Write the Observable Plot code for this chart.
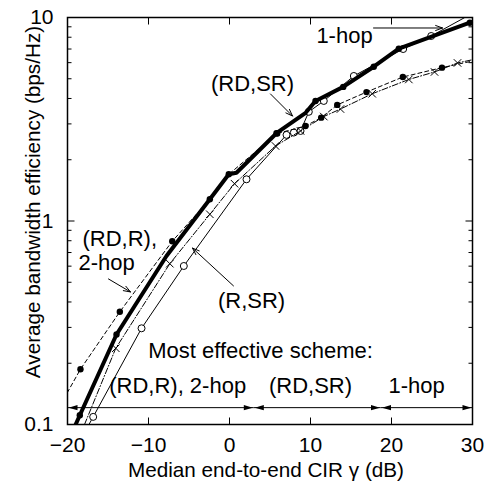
<!DOCTYPE html>
<html><head><meta charset="utf-8">
<script src="https://cdn.jsdelivr.net/npm/d3@7"></script>
<script src="https://cdn.jsdelivr.net/npm/@observablehq/plot@0.6"></script>
<style>body{margin:0;background:#fff}</style>
</head><body><div id="chart"></div>
<script>
// ---- data ----
const xTicks = [-20, -10, 0, 10, 20, 30];
const yTicks = [0.1, 1, 10];
const yMinor = [0.2, 0.3, 0.4, 0.5, 0.6, 0.7, 0.8, 0.9, 2, 3, 4, 5, 6, 7, 8, 9];

// (RD,SR): thick solid
const rdsrX = [-19.9, -18.48, -13.95, -7.78, -2.43, -0.09, 0.86, 5.80, 9.40, 10.62, 14.04, 17.81, 20.90, 29.67, 30];
const rdsrY = [0.083, 0.111, 0.277, 0.673, 1.278, 1.696, 1.727, 2.70, 3.40, 3.89, 4.56, 5.73, 7.03, 9.43, 9.5];
const rdsrDot = [-18.48, -13.95, 5.80, 10.62, 14.04, 17.81, 20.90, 29.67];

// (RD,R) / 2-hop: thin dashed, filled dots
const rdrX = [-20.04, -18.40, -13.54, -7.07, -2.43, -0.09, 5.89, 9.38, 11.32, 13.30, 16.91, 21.40, 26.23, 30];
const rdrY = [0.143, 0.187, 0.358, 0.795, 1.278, 1.696, 2.69, 2.93, 3.22, 3.72, 4.30, 5.10, 5.67, 6.11];

// (R,SR): dash-dot, x markers
const rsrX = [-17.9, -14.04, -7.37, -2.43, 0.62, 5.68, 8.77, 11.64, 13.70, 17.62, 22.14, 25.31, 28.15, 30];
const rsrY = [0.1, 0.237, 0.617, 1.079, 1.525, 2.337, 2.77, 3.26, 3.55, 4.22, 4.96, 5.40, 5.98, 6.2];

// 1-hop: thin solid, open circles
const hop1X = [-17.79, -16.83, -10.86, -5.64, 2.10, 7.04, 7.94, 8.77, 9.79, 11.64, 15.35, 21.44, 24.90, 29.01];
const hop1Y = [0.093, 0.109, 0.297, 0.601, 1.603, 2.65, 2.72, 2.77, 3.44, 3.89, 5.16, 7.00, 8.11, 9.98];

// "most effective scheme" regions
const regionBounds = [[-20, 3.0], [3.0, 18.7], [18.7, 30]];
const regionNames = ["(RD,R), 2-hop", "(RD,SR)", "1-hop"];
const regionLabelX = [-6.4, 10.0, 23.1];
const regionArrowY = 0.121;
const regionLabelY = 0.1546;

// centred annotations (text, x, y)
const noteText = ["(RD,SR)", "1-hop", "(R,SR)", "Most effective scheme:"];
const noteX = [2.84, 14.2, 2.72, 3.83];
const noteY = [4.71, 8.11, 0.404, 0.2297];
// left-aligned annotation
const leftNoteText = ["(RD,R),", "2-hop"];
const leftNoteX = [-18.15, -18.64];
const leftNoteY = [0.82, 0.625];
// annotation arrows [x1, y1, x2, y2]
const pointerArrows = [
  [5.06, 4.21, 7.78, 3.28],
  [17.78, 8.88, 26.3, 8.88],
  [-14.94, 0.519, -12.22, 0.448],
  [0.49, 0.480, -4.57, 0.736]
];

const zip = (xs, ys) => xs.map((x, i) => ({x, y: ys[i]}));
const rdsr = zip(rdsrX, rdsrY);
const rdsrDots = rdsr.filter(d => rdsrDot.includes(d.x));
const rdr = zip(rdrX, rdrY);
const rsr = zip(rsrX, rsrY);
const hop1 = zip(hop1X, hop1Y);
const inner = arr => arr.slice(1, -1);
const notes = noteText.map((t, i) => ({t, x: noteX[i], y: noteY[i]}));
const leftNotes = leftNoteText.map((t, i) => ({t, x: leftNoteX[i], y: leftNoteY[i]}));
const regions = regionBounds.map((b, i) => ({x1: b[0], x2: b[1], name: regionNames[i], lx: regionLabelX[i]}));

const seg = (dx, dy) => ({draw(ctx) { ctx.moveTo(0, 0); ctx.lineTo(dx, dy); }});
const headR = {draw(ctx) { ctx.moveTo(0, 0); ctx.lineTo(-9, -2.6); ctx.lineTo(-9, 2.6); ctx.closePath(); }};
const headL = {draw(ctx) { ctx.moveTo(0, 0); ctx.lineTo(9, -2.6); ctx.lineTo(9, 2.6); ctx.closePath(); }};

const FONT = "Liberation Sans, Arial, Helvetica, sans-serif";
const FS_NOTE = 22;
const FS_TICK = 21;
const FS_TITLE = 20.7;

const chart = Plot.plot({
  width: 491,
  height: 489,
  marginLeft: 67,
  marginRight: 19,
  marginTop: 17,
  marginBottom: 65,
  style: {fontFamily: FONT, fontSize: FS_TICK + "px", background: "white", color: "black"},
  x: {domain: [-20, 30]},
  y: {type: "log", domain: [0.1, 10]},
  marks: [
    // tick labels
    Plot.axisX({ticks: xTicks, tickSize: 0, tickPadding: 13, fontSize: FS_TICK, label: null}),
    Plot.axisY({ticks: yTicks, tickSize: 0, tickPadding: 14, fontSize: FS_TICK, label: null, tickFormat: d => String(d)}),
    // inward ticks
    Plot.dot(xTicks, {x: d => d, frameAnchor: "bottom", symbol: seg(0, -7), stroke: "black", fill: "none", strokeWidth: 1}),
    Plot.dot(xTicks, {x: d => d, frameAnchor: "top", symbol: seg(0, 7), stroke: "black", fill: "none", strokeWidth: 1}),
    Plot.dot(yTicks, {y: d => d, frameAnchor: "left", symbol: seg(7, 0), stroke: "black", fill: "none", strokeWidth: 1}),
    Plot.dot(yTicks, {y: d => d, frameAnchor: "right", symbol: seg(-7, 0), stroke: "black", fill: "none", strokeWidth: 1}),
    Plot.dot(yMinor, {y: d => d, frameAnchor: "left", symbol: seg(4, 0), stroke: "black", fill: "none", strokeWidth: 1}),
    Plot.dot(yMinor, {y: d => d, frameAnchor: "right", symbol: seg(-4, 0), stroke: "black", fill: "none", strokeWidth: 1}),
    // axis titles
    Plot.text(["Median end-to-end CIR \u03b3 (dB)"], {frameAnchor: "bottom", textAnchor: "middle", lineAnchor: "middle", dx: -4, dy: 46, text: d => d, fontSize: FS_TITLE}),
    Plot.text(["Average bandwidth efficiency (bps/Hz)"], {frameAnchor: "left", textAnchor: "middle", lineAnchor: "middle", dx: -34, dy: -19, rotate: -90, text: d => d, fontSize: FS_TITLE}),
    // curves
    Plot.line(hop1, {x: "x", y: "y", stroke: "black", strokeWidth: 1, clip: true}),
    Plot.dot(inner(hop1), {x: "x", y: "y", r: 3.5, stroke: "black", fill: "white", strokeWidth: 1}),
    Plot.line(rsr, {x: "x", y: "y", stroke: "black", strokeWidth: 1, strokeDasharray: "6,2,1,2", clip: true}),
    Plot.dot(inner(rsr), {x: "x", y: "y", r: 3.5, symbol: "times", stroke: "black", strokeWidth: 1}),
    Plot.line(rdr, {x: "x", y: "y", stroke: "black", strokeWidth: 1, strokeDasharray: "4,3", clip: true}),
    Plot.dot(inner(rdr), {x: "x", y: "y", r: 3.2, fill: "black"}),
    Plot.line(rdsr, {x: "x", y: "y", stroke: "black", strokeWidth: 4, clip: true}),
    Plot.dot(rdsrDots, {x: "x", y: "y", r: 3.2, fill: "black"}),
    // annotations
    Plot.text(notes, {x: "x", y: "y", text: "t", textAnchor: "middle", fontSize: FS_NOTE}),
    Plot.text(leftNotes, {x: "x", y: "y", text: "t", textAnchor: "start", fontSize: FS_NOTE}),
    Plot.arrow(pointerArrows, {x1: d => d[0], y1: d => d[1], x2: d => d[2], y2: d => d[3], stroke: "black", strokeWidth: 1, headLength: 11, headAngle: 40}),
    // region arrows
    Plot.ruleY(regions, {y: regionArrowY, x1: "x1", x2: "x2", stroke: "black", strokeWidth: 1}),
    Plot.dot(regions, {x: "x2", y: regionArrowY, symbol: headR, fill: "black", stroke: "none", dx: -1}),
    Plot.dot(regions, {x: "x1", y: regionArrowY, symbol: headL, fill: "black", stroke: "none", dx: 1}),
    Plot.text(regions, {x: "lx", y: regionLabelY, text: "name", fontSize: FS_NOTE}),
    Plot.frame({stroke: "black", strokeWidth: 1.5})
  ]
});
document.getElementById("chart").appendChild(chart);
</script>
</body></html>
